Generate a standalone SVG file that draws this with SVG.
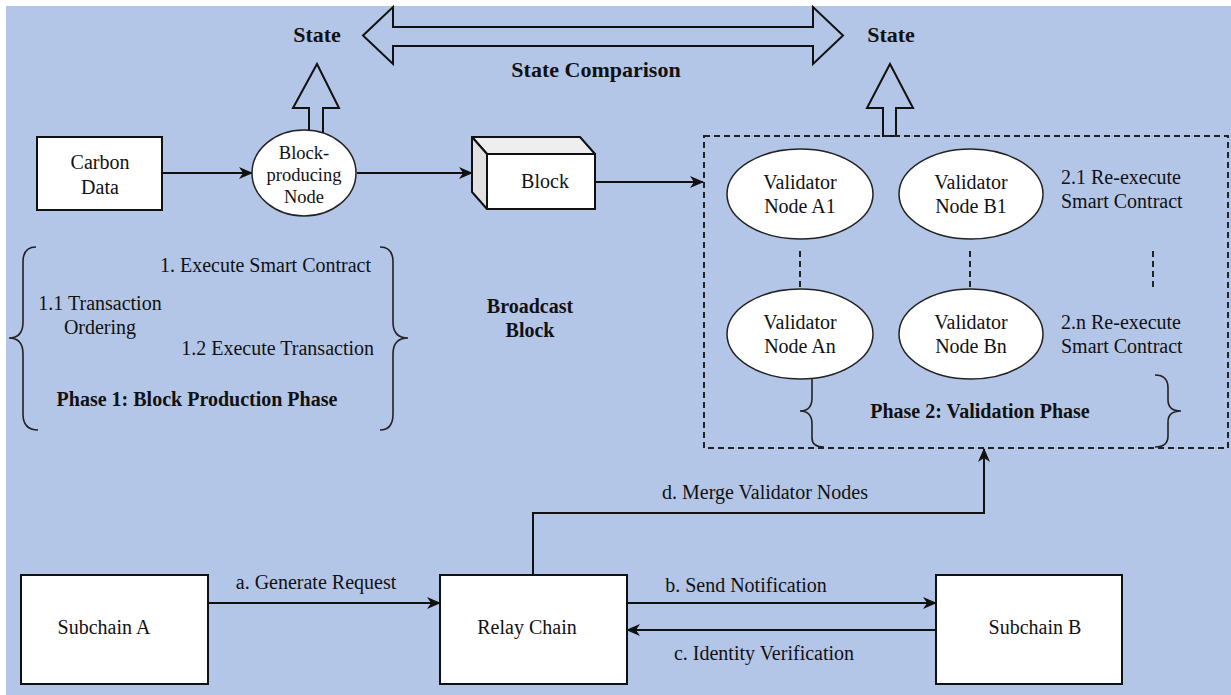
<svg xmlns="http://www.w3.org/2000/svg" width="1231" height="695" viewBox="0 0 1231 695">
<defs>
<style>
text{font-family:"Liberation Serif","Times New Roman",serif;font-size:20px;fill:#111}
.b{font-weight:bold}
.s{font-size:18.5px}
.box{fill:#fff;stroke:#111;stroke-width:2}
.ell{fill:#fff;stroke:#222;stroke-width:1.5}
.bar{fill:#b4c6e7;stroke:#111;stroke-width:2}
.ln{fill:none;stroke:#111;stroke-width:2}
.arr{fill:none;stroke:#111;stroke-width:2;marker-end:url(#ah)}
.dash{fill:none;stroke:#222;stroke-width:2;stroke-dasharray:6 4}
.br{fill:none;stroke:#222;stroke-width:1.6}
</style>
<marker id="ah" markerUnits="userSpaceOnUse" markerWidth="14" markerHeight="12" refX="13" refY="6" orient="auto">
<path d="M0,0 L14,6 L0,12 L4,6 z" fill="#111"/>
</marker>
</defs>
<rect x="0" y="0" width="1231" height="695" fill="#fff"/>
<rect x="6" y="6" width="1225" height="689" fill="#b4c6e7"/>

<g id="state-comparison">
<polygon class="bar" points="363,35.5 393,7 393,27 813,27 813,7 843,35.5 813,64 813,46 393,46 393,64"/>
<text class="b" x="596" y="77" text-anchor="middle" style="font-size:22px">State Comparison</text>
</g>
<g id="state-left">
<text class="b" x="317" y="42" text-anchor="middle" style="font-size:22px">State</text>
<polygon class="bar" points="317,64 339,108 323,108 323,134 309,134 309,108 293,108"/>
</g>
<g id="state-right">
<text class="b" x="891" y="42" text-anchor="middle" style="font-size:22px">State</text>
<polygon class="bar" points="890,64 913,108 896,108 896,136 883,136 883,108 867,108"/>
</g>

<g id="connectors">
<line class="arr" x1="162" y1="173" x2="252" y2="173"/>
<line class="arr" x1="357" y1="173" x2="472" y2="173"/>
<line class="arr" x1="595" y1="182" x2="703" y2="182"/>
<line class="arr" x1="208" y1="603" x2="440" y2="603"/>
<line class="arr" x1="627" y1="603" x2="936" y2="603"/>
<line class="arr" x1="936" y1="630" x2="627" y2="630"/>
<polyline class="arr" points="533,575 533,513 984,513 984,449"/>
<line class="dash" x1="800" y1="251" x2="800" y2="290"/>
<line class="dash" x1="970" y1="251" x2="970" y2="290"/>
<line class="dash" x1="1153" y1="251" x2="1153" y2="290"/>
</g>

<g id="carbon-data">
<rect class="box" x="37" y="137" width="125" height="73"/>
<text x="100" y="169" text-anchor="middle">Carbon</text>
<text x="100" y="194" text-anchor="middle">Data</text>
</g>
<g id="block-producing-node">
<ellipse class="ell" cx="304" cy="173" rx="52" ry="43"/>
<text class="s" x="304" y="159" text-anchor="middle">Block-</text>
<text class="s" x="304" y="181" text-anchor="middle">producing</text>
<text class="s" x="304" y="203" text-anchor="middle">Node</text>
</g>
<g id="block">
<polygon points="472,137 580,137 595,154 487,154" fill="#eeeeee" stroke="#111" stroke-width="2" stroke-linejoin="round"/>
<polygon points="472,137 487,154 487,209 472,192" fill="#e2e2e2" stroke="#111" stroke-width="2" stroke-linejoin="round"/>
<rect class="box" x="487" y="154" width="108" height="55"/>
<text x="545" y="188" text-anchor="middle">Block</text>
</g>

<g id="phase1">
<path class="br" d="M36,247 Q23,247 23,262 L23,322 Q23,338 9,338 Q23,338 23,354 L23,414 Q23,430 38,430"/>
<path class="br" d="M380,247 Q393,247 393,262 L393,322 Q393,338 408,338 Q393,338 393,354 L393,414 Q393,430 380,430"/>
<text x="371" y="272" text-anchor="end">1. Execute Smart Contract</text>
<text x="100" y="310" text-anchor="middle">1.1 Transaction</text>
<text x="100" y="334" text-anchor="middle">Ordering</text>
<text x="374" y="355" text-anchor="end">1.2 Execute Transaction</text>
<text class="b" x="197" y="406" text-anchor="middle">Phase 1: Block Production Phase</text>
</g>
<g id="broadcast">
<text class="b" x="530" y="313" text-anchor="middle">Broadcast</text>
<text class="b" x="530" y="337" text-anchor="middle">Block</text>
</g>

<g id="phase2">
<rect class="dash" x="704" y="136" width="524" height="312"/>
<path class="br" d="M812,378 L812,398 Q812,411 800,411 Q812,411 812,424 L812,438 Q812,447 824,447"/>
<path class="br" d="M1155,375 Q1168,375 1168,388 L1168,400 Q1168,411 1181,411 Q1168,411 1168,422 L1168,436 Q1168,447 1155,447"/>
<text x="1061" y="184">2.1 Re-execute</text>
<text x="1061" y="208">Smart Contract</text>
<text x="1061" y="329">2.n Re-execute</text>
<text x="1061" y="353">Smart Contract</text>
<text class="b" x="980" y="418" text-anchor="middle">Phase 2: Validation Phase</text>
</g>
<g id="validator-a1">
<ellipse class="ell" cx="800" cy="194" rx="73" ry="45"/>
<text x="800" y="189" text-anchor="middle">Validator</text>
<text x="800" y="213" text-anchor="middle">Node A1</text>
</g>
<g id="validator-b1">
<ellipse class="ell" cx="971" cy="194" rx="72" ry="45"/>
<text x="971" y="189" text-anchor="middle">Validator</text>
<text x="971" y="213" text-anchor="middle">Node B1</text>
</g>
<g id="validator-an">
<ellipse class="ell" cx="800" cy="334" rx="73" ry="45"/>
<text x="800" y="329" text-anchor="middle">Validator</text>
<text x="800" y="353" text-anchor="middle">Node An</text>
</g>
<g id="validator-bn">
<ellipse class="ell" cx="971" cy="334" rx="72" ry="45"/>
<text x="971" y="329" text-anchor="middle">Validator</text>
<text x="971" y="353" text-anchor="middle">Node Bn</text>
</g>

<g id="subchain-a">
<rect class="box" x="21" y="575" width="187" height="109"/>
<text x="104" y="634" text-anchor="middle">Subchain A</text>
</g>
<g id="relay-chain">
<rect class="box" x="440" y="575" width="187" height="109"/>
<text x="527" y="634" text-anchor="middle">Relay Chain</text>
</g>
<g id="subchain-b">
<rect class="box" x="936" y="575" width="186" height="109"/>
<text x="1035" y="634" text-anchor="middle">Subchain B</text>
</g>
<g id="labels">
<text x="316" y="589" text-anchor="middle">a. Generate Request</text>
<text x="746" y="592" text-anchor="middle">b. Send Notification</text>
<text x="764" y="660" text-anchor="middle">c. Identity Verification</text>
<text x="765" y="499" text-anchor="middle">d. Merge Validator Nodes</text>
</g>
</svg>
